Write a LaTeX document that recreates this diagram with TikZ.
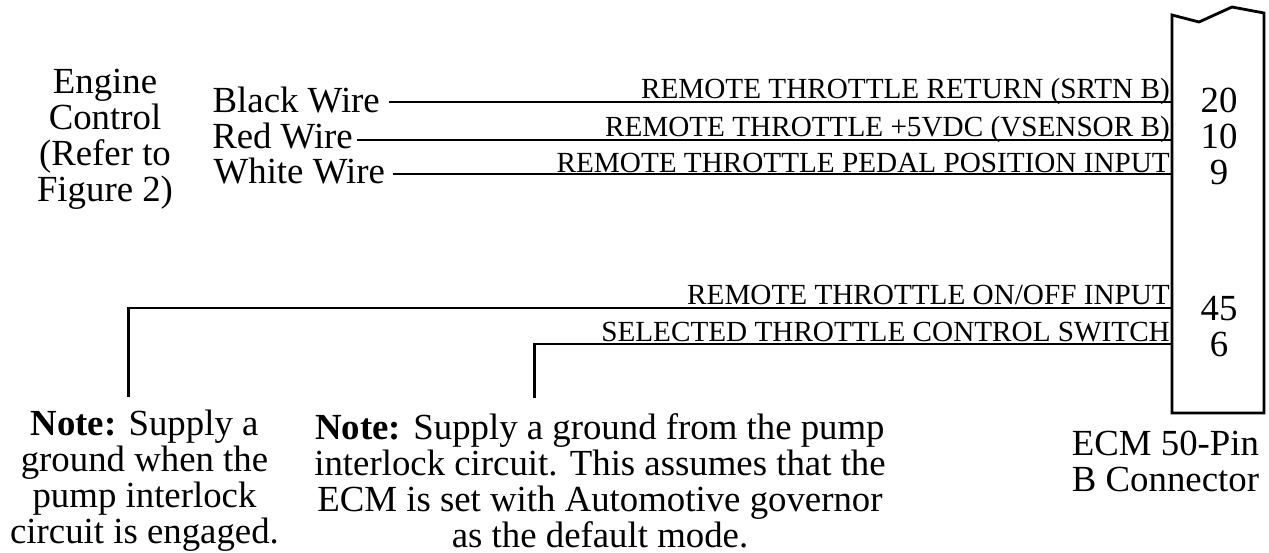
\documentclass[tikz,border=0pt]{standalone}
\usepackage{fontspec}
\setmainfont{Liberation Serif}
\tikzset{
 wire/.style={line width=2.8pt},
 big/.style={font=\fontsize{36.8}{36}\selectfont,align=center,inner sep=0pt},
 small/.style={font=\fontsize{29.2}{30}\selectfont,inner sep=0pt,anchor=base east},
}
\begin{document}
\begin{tikzpicture}[x=1pt,y=-1pt]
\useasboundingbox (0,0) rectangle (1269,552);
\coordinate (c1) at (1172,413);
\coordinate (c2) at (1172,15);
\coordinate (c3) at (1199,22);
\coordinate (c4) at (1232,7);
\coordinate (c5) at (1264,13);
\coordinate (c6) at (1264,413);
\draw[wire,line join=miter] (c1) -- (c2) -- (c3) -- (c4) -- (c5) -- (c6) -- cycle;
\node[big] (ec) at (105,139) {Engine\\Control\\(Refer to\\Figure 2)};
\node[big,anchor=base east] (bw) at (380,112) {Black Wire};
\node[big,anchor=base east] (rw) at (353,148) {Red Wire};
\node[big,anchor=base east] (ww) at (385,183) {White Wire};
\coordinate (p20) at (1172,102);
\coordinate (p10) at (1172,140);
\coordinate (p9) at (1172,174);
\coordinate (p45) at (1172,308);
\coordinate (p6) at (1172,344);
\coordinate (n1) at (128.5,397);
\coordinate (n2) at (534.5,398);
\draw[wire] (bw.base east |- p20) ++(9,0) -- (p20);
\draw[wire] (rw.base east |- p10) ++(4,0) -- (p10);
\draw[wire] (ww.base east |- p9) ++(8,0) -- (p9);
\draw[wire] (n1) |- (p45);
\draw[wire] (n2) |- (p6);
\node[small] (t1) at (1170,98) {REMOTE THROTTLE RETURN (SRTN B)};
\node[small] (t2) at (1170,136) {REMOTE THROTTLE +5VDC (VSENSOR B)};
\node[small] (t3) at (1170,172.5) {REMOTE THROTTLE PEDAL POSITION INPUT};
\node[small] (t4) at (1170,304.5) {REMOTE THROTTLE ON/OFF INPUT};
\node[small] (t5) at (1170,341) {SELECTED THROTTLE CONTROL SWITCH};
\node[big] (a) at (1219,100) {20};
\node[big] (b) at (1219,136) {10};
\node[big] (c) at (1219,172) {9};
\node[big] (d) at (1219,309) {45};
\node[big] (e) at (1219,344) {6};
\node[big] (f) at (1165.5,461.5) {ECM 50-Pin\\B Connector};
\node[big] (g) at (144.5,480.5) {\textbf{Note:} Supply a\\ground when the\\pump interlock\\circuit is engaged.};
\node[big] (h) at (600,480.5) {\textbf{Note:} Supply a ground from the pump\\interlock circuit. This assumes that the\\ECM is set with Automotive governor\\as the default mode.};
\end{tikzpicture}
\end{document}
